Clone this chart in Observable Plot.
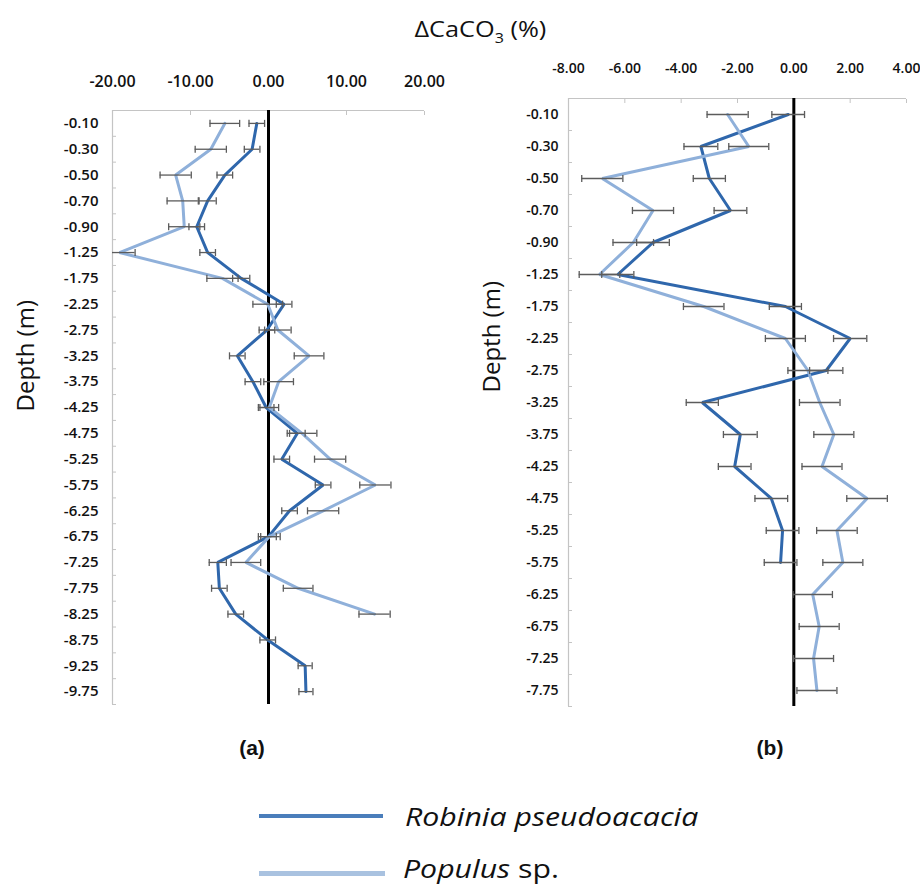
<!DOCTYPE html>
<html><head><meta charset="utf-8">
<script src="https://cdn.jsdelivr.net/npm/d3@7"></script>
<script src="https://cdn.jsdelivr.net/npm/@observablehq/plot@0.6"></script>
<style>
html,body{margin:0;padding:0;background:#fff;}
#wrap{position:relative;width:920px;height:887px;font-family:"Open Sans",sans-serif;color:#111;overflow:hidden;background:#fff;}
.abs{position:absolute;}
.lab{font-family:"Liberation Sans",Arial,sans-serif;font-weight:bold;font-size:21px;line-height:26px;width:60px;text-align:center;}
.leg{font-size:25px;line-height:32px;white-space:nowrap;transform:scaleX(1.21);transform-origin:left center;}
</style></head><body>
<div id="wrap">
  <div class="abs" style="left:0;width:960px;top:12px;text-align:center;font-size:22px;line-height:32px;"><span style="display:inline-block;transform:scaleX(1.15);">ΔCaCO<span style="font-size:14px;position:relative;top:6px;">3</span> (%)</span></div>
  <div class="abs" id="pa" style="left:0;top:0;"></div>
  <div class="abs" id="pb" style="left:460px;top:0;"></div>
  <div class="abs lab" style="left:222px;top:735px;">(a)</div>
  <div class="abs lab" style="left:740px;top:735px;">(b)</div>
  <div class="abs" style="left:259px;top:814px;width:124px;height:4px;background:#4a7ebb;"></div>
  <div class="abs leg" style="left:405px;top:800px;font-style:italic;">Robinia pseudoacacia</div>
  <div class="abs" style="left:259px;top:871px;width:126px;height:5px;background:#a9c2e0;"></div>
  <div class="abs leg" style="left:403px;top:852px;"><i>Populus</i> sp.</div>
</div>
<script>
// ---- Panel (a) data ----
const depthsA = ["-0.10","-0.30","-0.50","-0.70","-0.90","-1.25","-1.75","-2.25","-2.75","-3.25","-3.75","-4.25","-4.75","-5.25","-5.75","-6.25","-6.75","-7.25","-7.75","-8.25","-8.75","-9.25","-9.75"];
const robiniaA = [-1.5,-2.1,-5.6,-7.8,-9.2,-7.8,-3.5,2.0,-0.2,-4.0,-2.0,-0.3,3.7,1.7,7.0,2.7,0.0,-6.5,-6.3,-4.2,-0.1,4.7,4.8];
const robiniaErrA = [1.0,1.0,1.0,1.1,1.0,1.0,1.1,1.0,1.0,1.0,1.0,1.0,1.0,1.0,1.0,1.0,1.0,1.1,1.0,1.0,1.0,0.9,0.9];
const populusA = [-5.6,-7.4,-11.9,-11.0,-10.8,-19.1,-5.9,-0.1,1.2,5.2,1.3,0.1,4.3,7.9,13.7,7.0,0.1,-2.9,3.8,13.6,null,null,null];
const populusErrA = [1.9,2.0,2.0,2.0,2.0,2.0,2.0,1.9,1.7,1.9,1.9,1.2,1.9,2.0,2.0,2.0,1.4,1.9,1.9,2.0,null,null,null];
const xTicksA = [-20,-10,0,10,20];
// ---- Panel (b) data ----
const depthsB = ["-0.10","-0.30","-0.50","-0.70","-0.90","-1.25","-1.75","-2.25","-2.75","-3.25","-3.75","-4.25","-4.75","-5.25","-5.75","-6.25","-6.75","-7.25","-7.75"];
const robiniaB = [-0.2,-3.3,-3.0,-2.25,-5.0,-6.25,-0.3,2.0,1.15,-3.25,-1.9,-2.1,-0.8,-0.4,-0.47,null,null,null,null];
const robiniaErrB = [0.58,0.6,0.57,0.58,0.58,0.57,0.57,0.59,0.59,0.57,0.6,0.58,0.58,0.58,0.58,null,null,null,null];
const populusB = [-2.35,-1.6,-6.8,-5.0,-5.7,-6.9,-3.2,-0.3,0.5,0.92,1.42,1.0,2.6,1.53,1.74,0.67,0.9,0.7,0.82];
const populusErrB = [0.73,0.71,0.73,0.73,0.72,0.72,0.72,0.71,0.71,0.72,0.71,0.71,0.72,0.72,0.71,0.7,0.71,0.71,0.71];
const xTicksB = [-8,-6,-4,-2,0,2,4];

const darkBlue = "#2f67ac", lightBlue = "#8fb0da", errColor = "#5c5c5c", frameColor = "#c4c4c4";
const capSymbol = {draw(ctx, size){ const h = Math.sqrt(size) / 2; ctx.moveTo(0, -h); ctx.lineTo(0, h); }};

function rowsOf(vals, errs){
  return vals.map((v, i) => ({i, v, e: errs[i]})).filter(d => d.v != null);
}

function panel(cfg){
  const n = cfg.depths.length;
  const idx = d3.range(n);
  const R = rowsOf(cfg.robinia, cfg.robiniaErr);
  const P = rowsOf(cfg.populus, cfg.populusErr);
  const errMarks = rows => [
    Plot.ruleY(rows, {y: "i", x1: d => d.v - d.e, x2: d => d.v + d.e, stroke: errColor, strokeWidth: 1.3, clip: "frame"}),
    Plot.dot(rows, {x: d => d.v - d.e, y: "i", symbol: capSymbol, r: 4, stroke: errColor, strokeWidth: 1.3, fill: "none", clip: "frame"}),
    Plot.dot(rows, {x: d => d.v + d.e, y: "i", symbol: capSymbol, r: 4, stroke: errColor, strokeWidth: 1.3, fill: "none", clip: "frame"})
  ];
  return Plot.plot({
    width: cfg.width, height: 720,
    marginTop: cfg.mt, marginLeft: cfg.ml, marginRight: cfg.mr, marginBottom: cfg.mb,
    style: {fontFamily: "Open Sans", fontSize: cfg.fs + "px", color: "#111", background: "transparent", overflow: "visible"},
    x: {domain: cfg.xDomain, axis: null},
    y: {domain: [-0.5, n - 0.5], reverse: true, axis: null},
    marks: [
      Plot.ruleY([-0.5], {stroke: frameColor, strokeWidth: 1.2}),
      Plot.ruleX([cfg.xDomain[0]], {stroke: frameColor, strokeWidth: 1.2}),
      Plot.axisX({anchor: "top", ticks: cfg.xTicks.slice(1), tickSize: -4, tickFormat: () => "", stroke: frameColor, label: null}),
      Plot.axisX({anchor: "top", ticks: cfg.xTicks, tickSize: 0, tickPadding: cfg.xpad, tickFormat: d => d.toFixed(2), fontSize: cfg.xfs, fontWeight: 600, label: null}),
      Plot.axisY({ticks: idx.map(i => i + 0.5), tickSize: -4, tickFormat: () => "", stroke: frameColor, label: null}),
      Plot.axisY({ticks: idx, tickSize: 0, tickPadding: cfg.ypad, tickFormat: i => cfg.depths[i], fontWeight: 600, label: null}),
      Plot.ruleX([0], {stroke: "#000", strokeWidth: 3}),
      Plot.line(R, {x: "v", y: "i", stroke: darkBlue, strokeWidth: 3, strokeLinejoin: "miter"}),
      Plot.line(P, {x: "v", y: "i", stroke: lightBlue, strokeWidth: 3, strokeLinejoin: "miter"}),
      ...errMarks(R),
      ...errMarks(P),
      Plot.text(["Depth (m)"], {text: d => d, frameAnchor: "left", rotate: -90, dx: cfg.depthDx, dy: cfg.depthDy, fontSize: 24, fontWeight: 400, fill: "#111"})
    ]
  });
}

document.getElementById("pa").append(panel({
  depths: depthsA, robinia: robiniaA, robiniaErr: robiniaErrA, populus: populusA, populusErr: populusErrA,
  xDomain: [-20, 20], xTicks: xTicksA, width: 440, mt: 110, ml: 112, mr: 16, mb: 16, fs: 15, xfs: 16, xpad: 24, ypad: 14, depthDx: -86, depthDy: 4
}));
document.getElementById("pb").append(panel({
  depths: depthsB, robinia: robiniaB, robiniaErr: robiniaErrB, populus: populusB, populusErr: populusErrB,
  xDomain: [-8, 4], xTicks: xTicksB, width: 460, mt: 98, ml: 108, mr: 14, mb: 14, fs: 14, xfs: 14, xpad: 26, ypad: 10, depthDx: -76, depthDy: -10
}));
</script>
</body></html>
